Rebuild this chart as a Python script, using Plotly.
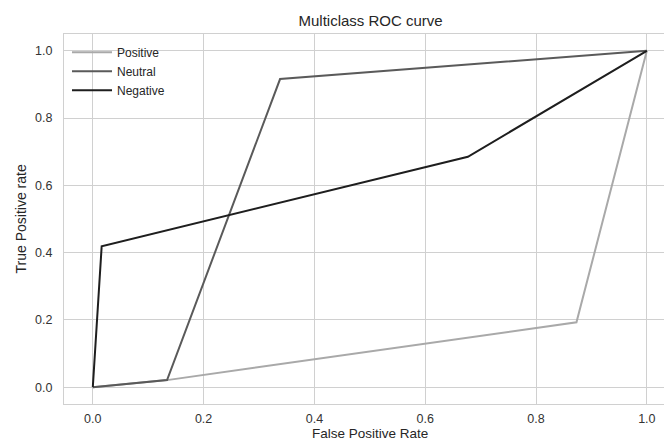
import plotly.graph_objects as go

names = ["Positive", "Neutral", "Negative"]
colors = ["#a9a9a9", "#5a5a5a", "#1e1e1e"]
fpr = {
    "Positive": [0.0, 0.134, 0.873, 1.0],
    "Neutral": [0.0, 0.134, 0.338, 1.0],
    "Negative": [0.0, 0.016, 0.677, 1.0],
}
tpr = {
    "Positive": [0.0, 0.021, 0.193, 1.0],
    "Neutral": [0.0, 0.021, 0.916, 1.0],
    "Negative": [0.0, 0.419, 0.685, 1.0],
}
ticks = [0.0, 0.2, 0.4, 0.6, 0.8, 1.0]
tick_text = ["0.0", "0.2", "0.4", "0.6", "0.8", "1.0"]
title_text = "Multiclass ROC curve"
xlabel = "False Positive Rate"
ylabel = "True Positive rate"

fig = go.Figure()
for n, c in zip(names, colors):
    fig.add_trace(go.Scatter(x=fpr[n], y=tpr[n], mode="lines", name=n,
                             line=dict(color=c, width=2)))

font_family = "Liberation Sans, Arial, sans-serif"
axis_common = dict(
    showgrid=True, gridcolor="#d0d0d0", gridwidth=1,
    showline=True, linecolor="#d0d0d0", linewidth=1, mirror=True,
    zeroline=False, ticks="", tickvals=ticks, ticktext=tick_text,
    automargin=False,
    tickfont=dict(size=12.5, color="#333333", family=font_family),
)
fig.update_layout(
    width=664, height=442,
    margin=dict(l=64, r=0, t=34, b=38),
    paper_bgcolor="white", plot_bgcolor="white",
    title=dict(text=title_text, xref="paper", x=0.511, xanchor="center",
               yref="container", y=1 - 20.5 / 442, yanchor="middle",
               font=dict(size=15, color="#262626", family=font_family)),
    xaxis=dict(range=[-0.052, 1.031], ticklabelstandoff=3, **axis_common),
    yaxis=dict(range=[-0.05, 1.05], ticklabelstandoff=8, **axis_common),
    legend=dict(x=0.005, y=0.99, xanchor="left", yanchor="top",
                bgcolor="rgba(0,0,0,0)", font=dict(size=12, color="#262626", family=font_family),
                tracegroupgap=0, itemwidth=40),
    showlegend=True,
)
fig.add_annotation(text=xlabel, xref="x", x=0.5, yref="paper", y=-(433.5 - 404) / 370,
                   xanchor="center", yanchor="middle", showarrow=False, borderpad=0,
                   font=dict(size=13.5, color="#262626", family=font_family))
fig.add_annotation(text=ylabel, xref="paper", x=-(64 - 20.5) / 600, yref="paper", y=0.5,
                   xanchor="center", yanchor="middle", textangle=-90, showarrow=False,
                   font=dict(size=14, color="#262626", family=font_family))
fig.write_html("out.html", config={"displayModeBar": False},
               post_script="document.body.style.margin='0';document.body.style.overflow='hidden';")
